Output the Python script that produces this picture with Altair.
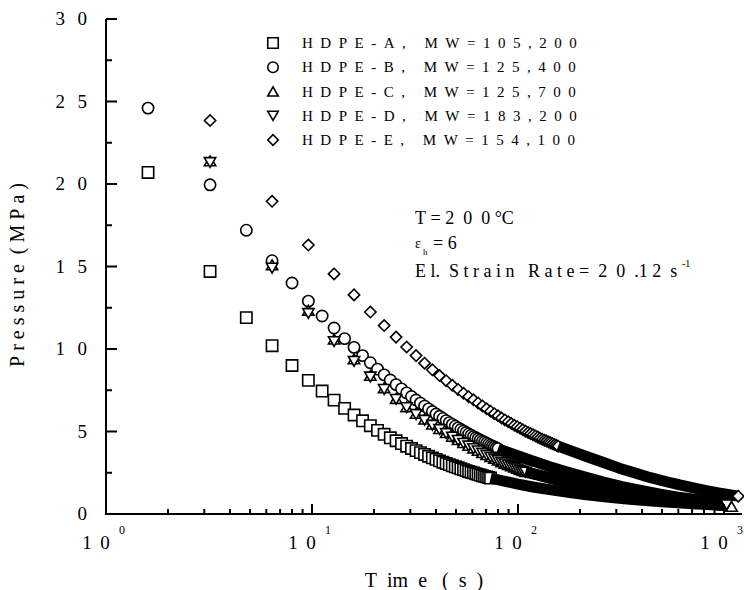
import altair as alt
import pandas as pd

NB = "\u00a0"
FONT = "Liberation Serif"

# ---------------- data ----------------
series_keys = ["A", "B", "C", "D", "E"]
series_names = ["HDPE-A, MW=105,200", "HDPE-B, MW=125,400", "HDPE-C, MW=125,700",
                "HDPE-D, MW=183,200", "HDPE-E, MW=154,100"]
series_shapes = ["square", "circle", "triangle-up", "triangle-down", "diamond"]

# sampling times (s): A, B every 1.6 s ; C, D, E every 3.2 s
time_fine = [1.6, 3.2, 4.8, 6.4, 8.0, 9.6, 11.2, 12.8, 14.4, 16.0, 17.6, 19.2, 20.8, 22.4,
             24.0, 25.6, 27.2, 28.8, 30.4, 32.0, 33.6, 35.2, 36.8, 38.4, 40.0, 41.6, 43.2,
             44.8, 46.4, 48.0, 49.6, 51.2, 52.8, 54.4, 56.0, 57.6, 59.2, 60.8, 62.4, 64.0,
             65.6, 67.2, 68.8, 70.4, 72.0, 73.6, 75.2, 76.8, 78.4, 80.0]
time_coarse = [3.2, 6.4, 9.6, 12.8, 16.0, 19.2, 22.4, 25.6, 28.8, 32.0, 35.2, 38.4, 41.6,
               44.8, 48.0, 51.2, 54.4, 57.6, 60.8, 64.0, 67.2, 70.4, 73.6, 76.8, 80.0, 83.2,
               86.4, 89.6, 92.8, 96.0, 99.2, 102.4, 105.6, 108.8, 112.0, 115.2, 118.4, 121.6,
               124.8, 128.0, 131.2, 134.4, 137.6, 140.8, 144.0, 147.2, 150.4, 153.6, 156.8]

a_pres = [20.7, 14.7, 11.9, 10.2, 9.0, 8.1, 7.45, 6.9, 6.4, 6.0, 5.65, 5.35, 5.07, 4.83,
          4.62, 4.44, 4.27, 4.11, 3.97, 3.84, 3.72, 3.61, 3.50, 3.40, 3.31, 3.22, 3.14,
          3.06, 2.99, 2.92, 2.86, 2.80, 2.74, 2.69, 2.63, 2.58, 2.53, 2.49, 2.44, 2.40,
          2.36, 2.32, 2.28, 2.25, 2.21, 2.18]
b_pres = [24.6, 19.95, 17.2, 15.35, 14.0, 12.9, 12.0, 11.27, 10.63, 10.1, 9.6, 9.17, 8.78,
          8.43, 8.12, 7.84, 7.58, 7.34, 7.12, 6.91, 6.72, 6.54, 6.37, 6.21, 6.06, 5.92,
          5.79, 5.66, 5.54, 5.43, 5.32, 5.22, 5.12, 5.03, 4.94, 4.85, 4.77, 4.69, 4.62,
          4.55, 4.48, 4.41, 4.35, 4.29, 4.23, 4.17, 4.11, 4.06, 4.01, 3.96]
c_pres = [21.4, 15.1, 12.35, 10.6, 9.4, 8.4, 7.65, 7.0, 6.5, 6.1, 5.75, 5.45, 5.18, 4.93,
          4.71, 4.51, 4.33, 4.16, 4.0, 3.86, 3.72, 3.6, 3.48, 3.37, 3.27, 3.17, 3.08, 3.0,
          2.92, 2.84, 2.77, 2.7, 2.63, 2.57]
d_pres = [21.3, 14.9, 12.15, 10.45, 9.25, 8.3, 7.55, 6.95, 6.45, 6.03, 5.68, 5.38, 5.12,
          4.88, 4.66, 4.46, 4.28, 4.12, 3.96, 3.82, 3.68, 3.56, 3.44, 3.33, 3.23, 3.13,
          3.04, 2.96, 2.88, 2.8, 2.73, 2.66, 2.6, 2.54]
e_pres = [23.85, 18.95, 16.3, 14.55, 13.28, 12.24, 11.42, 10.72, 10.12, 9.6, 9.14, 8.74,
          8.39, 8.08, 7.8, 7.55, 7.32, 7.11, 6.92, 6.73, 6.55, 6.38, 6.23, 6.08, 5.95,
          5.82, 5.7, 5.59, 5.48, 5.38, 5.29, 5.2, 5.11, 5.02, 4.94, 4.87, 4.8, 4.73, 4.66,
          4.59, 4.53, 4.47, 4.42, 4.36, 4.31, 4.26, 4.21, 4.16, 4.11]

# last recorded points at the far end
end_series = ["C", "D", "E"]
end_time = [1089, 1030, 1173]
end_pres = [0.46, 0.56, 1.08]

# long-time region where the markers merge into a solid band (read along the band)
a_tail_t = [73.6, 85, 100, 120, 145, 175, 210, 250, 300, 360, 430, 520, 620, 740, 870, 1000]
a_tail_p = [2.18, 2.0, 1.81, 1.62, 1.46, 1.31, 1.18, 1.07, 0.97, 0.88, 0.8, 0.72, 0.66, 0.6, 0.56, 0.52]
b_tail_t = [80, 95, 115, 140, 170, 210, 260, 320, 400, 490, 600, 730, 870, 1000]
b_tail_p = [3.96, 3.62, 3.26, 2.9, 2.58, 2.25, 1.94, 1.66, 1.41, 1.2, 1.02, 0.88, 0.77, 0.7]
c_tail_t = [108.8, 125, 145, 170, 200, 240, 290, 350, 420, 500, 600, 720, 850, 1000, 1089]
c_tail_p = [2.57, 2.38, 2.17, 1.96, 1.77, 1.57, 1.38, 1.21, 1.06, 0.93, 0.8, 0.69, 0.6, 0.52, 0.46]
d_tail_t = [108.8, 125, 145, 170, 200, 240, 290, 350, 420, 500, 600, 720, 850, 1030]
d_tail_p = [2.54, 2.35, 2.14, 1.94, 1.75, 1.56, 1.38, 1.21, 1.07, 0.95, 0.83, 0.72, 0.64, 0.56]
e_tail_t = [156.8, 185, 220, 260, 310, 370, 440, 520, 610, 710, 820, 940, 1060, 1173]
e_tail_p = [4.11, 3.78, 3.44, 3.12, 2.78, 2.48, 2.2, 1.97, 1.76, 1.58, 1.42, 1.28, 1.17, 1.08]

y_major = [0, 5, 10, 15, 20, 25, 30]
y_minor = [2.5, 7.5, 12.5, 17.5, 22.5, 27.5]
x_major = [10, 100, 1000]
x_minor = [2, 3, 4, 5, 6, 7, 8, 9, 20, 30, 40, 50, 60, 70, 80, 90,
           200, 300, 400, 500, 600, 700, 800, 900]
x_label_vals = [1, 10, 100, 1000]
x_label_exps = ["0", "1", "2", "3"]

# ---------------- tables ----------------
def spaced(s, n=1):
    return (NB * n).join(list(s))

name_of = dict(zip(series_keys, series_names))
rows = []
for key, times, pres in [("A", time_fine, a_pres), ("B", time_fine, b_pres),
                         ("C", time_coarse, c_pres), ("D", time_coarse, d_pres),
                         ("E", time_coarse, e_pres)]:
    for t, p in zip(times, pres):
        rows.append({"series": name_of[key], "t": t, "p": p})
points = pd.DataFrame(rows)
points["order"] = range(len(points))

ends = pd.DataFrame({"series": [name_of[k] for k in end_series], "t": end_time, "p": end_pres})

trows = []
for key, ts, ps in [("A", a_tail_t, a_tail_p), ("B", b_tail_t, b_tail_p),
                    ("C", c_tail_t, c_tail_p), ("D", d_tail_t, d_tail_p),
                    ("E", e_tail_t, e_tail_p)]:
    for t, p in zip(ts, ps):
        trows.append({"series": name_of[key], "t": t, "p": p})
tails = pd.DataFrame(trows)

W, H = 636, 495
xscale = alt.Scale(type="log", domain=[1, 1223], nice=False)
yscale = alt.Scale(domain=[0, 30], nice=False)
shape_scale = alt.Scale(domain=series_names, range=series_shapes)

X = alt.X("t:Q", scale=xscale, axis=None)
Y = alt.Y("p:Q", scale=yscale, axis=None)

marker = dict(filled=False, color="black", fill="white", strokeWidth=1.6, opacity=1)

point_layer = alt.Chart(points).mark_point(size=128, **marker).encode(
    x=X, y=Y,
    shape=alt.Shape("series:N", scale=shape_scale, legend=None),
    order="order:Q",
)

tail_layer = alt.Chart(tails).mark_line(color="black", strokeWidth=11, strokeCap="butt",
                                         strokeJoin="round").encode(
    x=X, y=Y, detail="series:N")

end_layer = alt.Chart(ends).mark_point(size=128, **marker).encode(
    x=X, y=Y, shape=alt.Shape("series:N", scale=shape_scale, legend=None))

# axis lines, ticks, labels, titles
axis_lines = [
    alt.Chart(pd.DataFrame({"k": [0]})).mark_rule(color="black", strokeWidth=2).encode(
        x=alt.value(0), y=alt.value(0), y2=alt.value(H + 1)),
    alt.Chart(pd.DataFrame({"k": [0]})).mark_rule(color="black", strokeWidth=2).encode(
        x=alt.value(-1), x2=alt.value(W), y=alt.value(H)),
]
ymaj = alt.Chart(pd.DataFrame({"v": y_major})).mark_rule(color="black", strokeWidth=2).encode(
    y=alt.Y("v:Q", scale=yscale, axis=None), x=alt.value(0), x2=alt.value(11))
ymin = alt.Chart(pd.DataFrame({"v": y_minor})).mark_rule(color="black", strokeWidth=2).encode(
    y=alt.Y("v:Q", scale=yscale, axis=None), x=alt.value(0), x2=alt.value(6))
xmaj = alt.Chart(pd.DataFrame({"v": x_major})).mark_rule(color="black", strokeWidth=2).encode(
    x=alt.X("v:Q", scale=xscale, axis=None), y=alt.value(H), y2=alt.value(H - 10))
xmin = alt.Chart(pd.DataFrame({"v": x_minor})).mark_rule(color="black", strokeWidth=2).encode(
    x=alt.X("v:Q", scale=xscale, axis=None), y=alt.value(H), y2=alt.value(H - 5))

# y tick labels: each digit placed on its own (wide letter spacing of the original)
ylab_df = pd.DataFrame({"v": y_major,
                        "tens": [str(v // 10) if v >= 10 else "" for v in y_major],
                        "units": [str(v % 10) for v in y_major]})
ylab_units = alt.Chart(ylab_df).mark_text(font=FONT, fontSize=19, color="black", align="right",
                                          baseline="middle").encode(
    y=alt.Y("v:Q", scale=yscale, axis=None), x=alt.value(-19), text="units:N")
ylab_tens = alt.Chart(ylab_df).mark_text(font=FONT, fontSize=19, color="black", align="right",
                                         baseline="middle").encode(
    y=alt.Y("v:Q", scale=yscale, axis=None), x=alt.value(-41), text="tens:N")

xlab_df = pd.DataFrame({"v": x_label_vals, "e": x_label_exps})
def xlab(txt, dx, dy, size):
    return alt.Chart(xlab_df).mark_text(font=FONT, fontSize=size, color="black", dx=dx,
                                        align="center", baseline="middle").encode(
        x=alt.X("v:Q", scale=xscale, axis=None), y=alt.value(H + dy), text=txt)
xlab_one = xlab(alt.value("1"), -19, 29, 19)
xlab_zero = xlab(alt.value("0"), -1, 29, 19)
xlab_exp = xlab("e:N", 16, 16, 12)

one = pd.DataFrame({"k": [0]})

def label(txt, x, y, size, align="left", angle=0):
    return alt.Chart(one).mark_text(font=FONT, fontSize=size, color="black", align=align,
                                    baseline="middle", angle=angle).encode(
        x=alt.value(x), y=alt.value(y), text=alt.value(txt))

texts = [
    label(f"T{NB}{NB}im{NB}{NB}e{NB}{NB}{NB}({NB}{NB}s{NB}{NB})", 318, 562, 20, align="center"),
    label(spaced("Pressure", 1) + NB * 2 + spaced("(MPa)", 1), -88, 256, 20,
          align="center", angle=270),
    label(f"T{NB}={NB}2{NB}{NB}0{NB}{NB}0{NB}°C", 309, 200, 18),
    label("ε", 309, 225, 14),
    label("h", 317, 233, 9),
    label(f"={NB}6", 327, 225, 18),
    label(f"E{NB}l.{NB}{NB}S{NB}t{NB}r{NB}a{NB}i{NB}n{NB}{NB}{NB}R{NB}a{NB}t{NB}e{NB}={NB}{NB}2{NB}{NB}0{NB}{NB}.1{NB}2{NB}{NB}s",
          309, 253, 18),
    label("-1", 576, 245, 10),
]

main = alt.layer(
    point_layer, tail_layer, end_layer, *axis_lines, ymaj, ymin, xmaj, xmin,
    ylab_units, ylab_tens, xlab_one, xlab_zero, xlab_exp, *texts
)

# legend (symbol + spaced label per series)
leg_df = pd.DataFrame({"series": series_names, "lab": [spaced(n, 2) for n in series_names]})
leg_y = alt.Y("series:N", scale=alt.Scale(type="point", domain=series_names,
                                          range=[24, 121], padding=0), axis=None)
leg_sym = alt.Chart(leg_df).mark_point(size=110, **marker).encode(
    x=alt.value(167), y=leg_y, shape=alt.Shape("series:N", scale=shape_scale, legend=None))
leg_txt = alt.Chart(leg_df).mark_text(font=FONT, fontSize=15, color="black", align="left",
                                      baseline="middle").encode(
    x=alt.value(196), y=leg_y, text="lab:N")
legend = alt.layer(leg_sym, leg_txt)

chart = alt.layer(main, legend).resolve_scale(y="independent").properties(
    width=W, height=H,
    autosize=alt.AutoSizeParams(type="none"),
    padding={"left": 106, "top": 19, "right": 2, "bottom": 76},
    background="white",
).configure_view(stroke=None)

chart.save("out.html", embed_options={"renderer": "svg", "actions": False})
